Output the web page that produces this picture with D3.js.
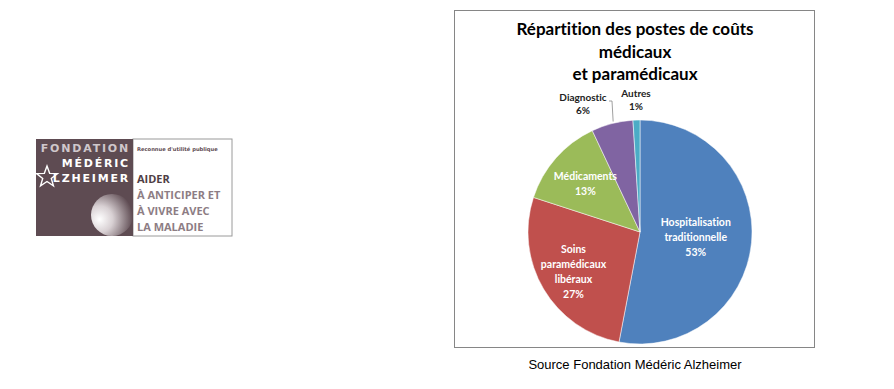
<!DOCTYPE html>
<html>
<head>
<meta charset="utf-8">
<script src="https://cdn.jsdelivr.net/npm/d3@7"></script>
<style>
  body { margin: 0; background: #fff; }
  svg { display: block; }
  text { font-variant-ligatures: none; font-feature-settings: "liga" 0; }
</style>
</head>
<body>
<svg id="chart"></svg>
<script>
// data
var categories = ["Hospitalisation traditionnelle", "Soins paramédicaux libéraux", "Médicaments", "Diagnostic", "Autres"];
var labelLines = [["Hospitalisation", "traditionnelle"], ["Soins", "paramédicaux", "libéraux"], ["Médicaments"], ["Diagnostic"], ["Autres"]];
var shares = [53, 27, 13, 6, 1];
var titleLines = ["Répartition des postes de coûts", "médicaux", "et paramédicaux"];
var sourceText = "Source Fondation Médéric Alzheimer";

var colors = ["#4f81bd", "#c0504d", "#9bbb59", "#8064a2", "#4bacc6"];
var labelRadius = [0.5, 0.69, 0.65, 1.2, 1.2];
var outside = [false, false, false, true, true];

var width = 894, height = 389;
var svg = d3.select("#chart").attr("width", width).attr("height", height);

// ---- logo (left) ----
var logo = svg.append("g").attr("transform", "translate(36,139)");
logo.append("rect").attr("x", 97).attr("y", 0).attr("width", 99).attr("height", 97)
  .attr("fill", "#fff").attr("stroke", "#9a9a9a").attr("stroke-width", 1);
logo.append("rect").attr("width", 97).attr("height", 97).attr("fill", "#5e4b52");

var moonGrad = svg.append("defs").append("radialGradient").attr("id", "moon")
  .attr("cx", "0.2").attr("cy", "0.6").attr("r", "0.8");
moonGrad.append("stop").attr("offset", "0%").attr("stop-color", "#ffffff");
moonGrad.append("stop").attr("offset", "40%").attr("stop-color", "#d8d0d3");
moonGrad.append("stop").attr("offset", "100%").attr("stop-color", "#5e4b52");
logo.append("circle").attr("cx", 76).attr("cy", 76).attr("r", 21).attr("fill", "url(#moon)");

var logoFont = "'DejaVu Sans', sans-serif";
logo.append("text").attr("x", 94).attr("y", 13).attr("text-anchor", "end")
  .attr("font-family", logoFont).attr("font-weight", "bold").attr("font-size", 11)
  .attr("letter-spacing", 1.8).attr("fill", "#cfc7cb").text("FONDATION");
logo.append("text").attr("x", 94).attr("y", 28).attr("text-anchor", "end")
  .attr("font-family", logoFont).attr("font-weight", "bold").attr("font-size", 11)
  .attr("letter-spacing", 1.8).attr("fill", "#fff").text("MÉDÉRIC");
logo.append("text").attr("x", 94).attr("y", 43).attr("text-anchor", "end")
  .attr("font-family", logoFont).attr("font-weight", "bold").attr("font-size", 11)
  .attr("letter-spacing", 1.8).attr("fill", "#fff").text("LZHEIMER");
// star-shaped "A"
var star = d3.range(10).map(function(k) {
  var a = -Math.PI / 2 + k * Math.PI / 5, r = k % 2 ? 4.5 : 11;
  return [11 + r * Math.cos(a), 38 + r * Math.sin(a)];
});
logo.append("polygon").attr("points", star.map(function(p) { return p.join(","); }).join(" "))
  .attr("fill", "none").attr("stroke", "#fff").attr("stroke-width", 1.4);

logo.append("text").attr("x", 101).attr("y", 12)
  .attr("font-family", logoFont).attr("font-weight", "bold").attr("font-size", 5.2)
  .attr("fill", "#5e4b52").text("Reconnue d'utilité publique");
var right = [["AIDER", "#4f3e45", 44], ["À ANTICIPER ET", "#8d7d84", 60], ["À VIVRE AVEC", "#8d7d84", 76], ["LA MALADIE", "#8d7d84", 92]];
right.forEach(function(r) {
  logo.append("text").attr("x", 101).attr("y", r[2])
    .attr("font-family", "'Open Sans', sans-serif").attr("font-weight", "bold").attr("font-size", 11)
    .attr("fill", r[1]).text(r[0]);
});

// ---- chart box ----
svg.append("rect").attr("x", 454.5).attr("y", 10.5).attr("width", 360).attr("height", 337)
  .attr("fill", "#fff").attr("stroke", "#868686");

var font = "Lato, 'Open Sans', sans-serif";
var title = svg.append("text").attr("text-anchor", "middle")
  .attr("font-family", font).attr("font-weight", "bold").attr("font-size", 17).attr("fill", "#000");
titleLines.forEach(function(t, i) {
  title.append("tspan").attr("x", 635).attr("y", 35 + i * 22.5).text(t);
});

var cx = 640, cy = 232, R = 112;
var pie = d3.pie().sort(null).value(function(d) { return d; });
var arcs = pie(shares);
var arc = d3.arc().innerRadius(0).outerRadius(R);

var g = svg.append("g").attr("transform", "translate(" + cx + "," + cy + ")");
g.selectAll("path.slice").data(arcs).enter().append("path")
  .attr("class", "slice")
  .attr("d", arc)
  .attr("fill", function(d, i) { return colors[i]; })
  .attr("stroke", "#fff").attr("stroke-width", 0.5);

// labels
var lineH = 15;
arcs.forEach(function(d, i) {
  var mid = (d.startAngle + d.endAngle) / 2;
  var pos;
  if (outside[i]) {
    pos = i === 3 ? [-57, -129] : [-4, -133];
  } else {
    var la = d3.arc().innerRadius(0).outerRadius(2 * R * labelRadius[i]);
    pos = la.centroid(d);
  }
  var lines = labelLines[i].concat([shares[i] + "%"]);
  var t = g.append("text").attr("text-anchor", "middle")
    .attr("font-family", font).attr("font-weight", "bold").attr("font-size", outside[i] ? 10 : 10.5)
    .attr("fill", outside[i] ? "#222" : "#fff");
  var h = outside[i] ? 13 : lineH;
  var y0 = pos[1] - (lines.length - 1) * h / 2 + 4;
  lines.forEach(function(l, j) {
    t.append("tspan").attr("x", pos[0]).attr("y", y0 + j * h).text(l);
  });
  if (i === 3) {
    var px = R * Math.sin(mid), py = -R * Math.cos(mid);
    g.append("polyline")
      .attr("points", [[-31, -131], [-28, -131], [px + 1, py - 2]].map(function(p) { return p.join(","); }).join(" "))
      .attr("fill", "none").attr("stroke", "#888").attr("stroke-width", 0.8);
  }
});

svg.append("text").attr("x", 635).attr("y", 369).attr("text-anchor", "middle")
  .attr("font-family", "'Liberation Sans', Arial, sans-serif").attr("font-size", 13)
  .attr("fill", "#000").text(sourceText);
</script>
</body>
</html>
